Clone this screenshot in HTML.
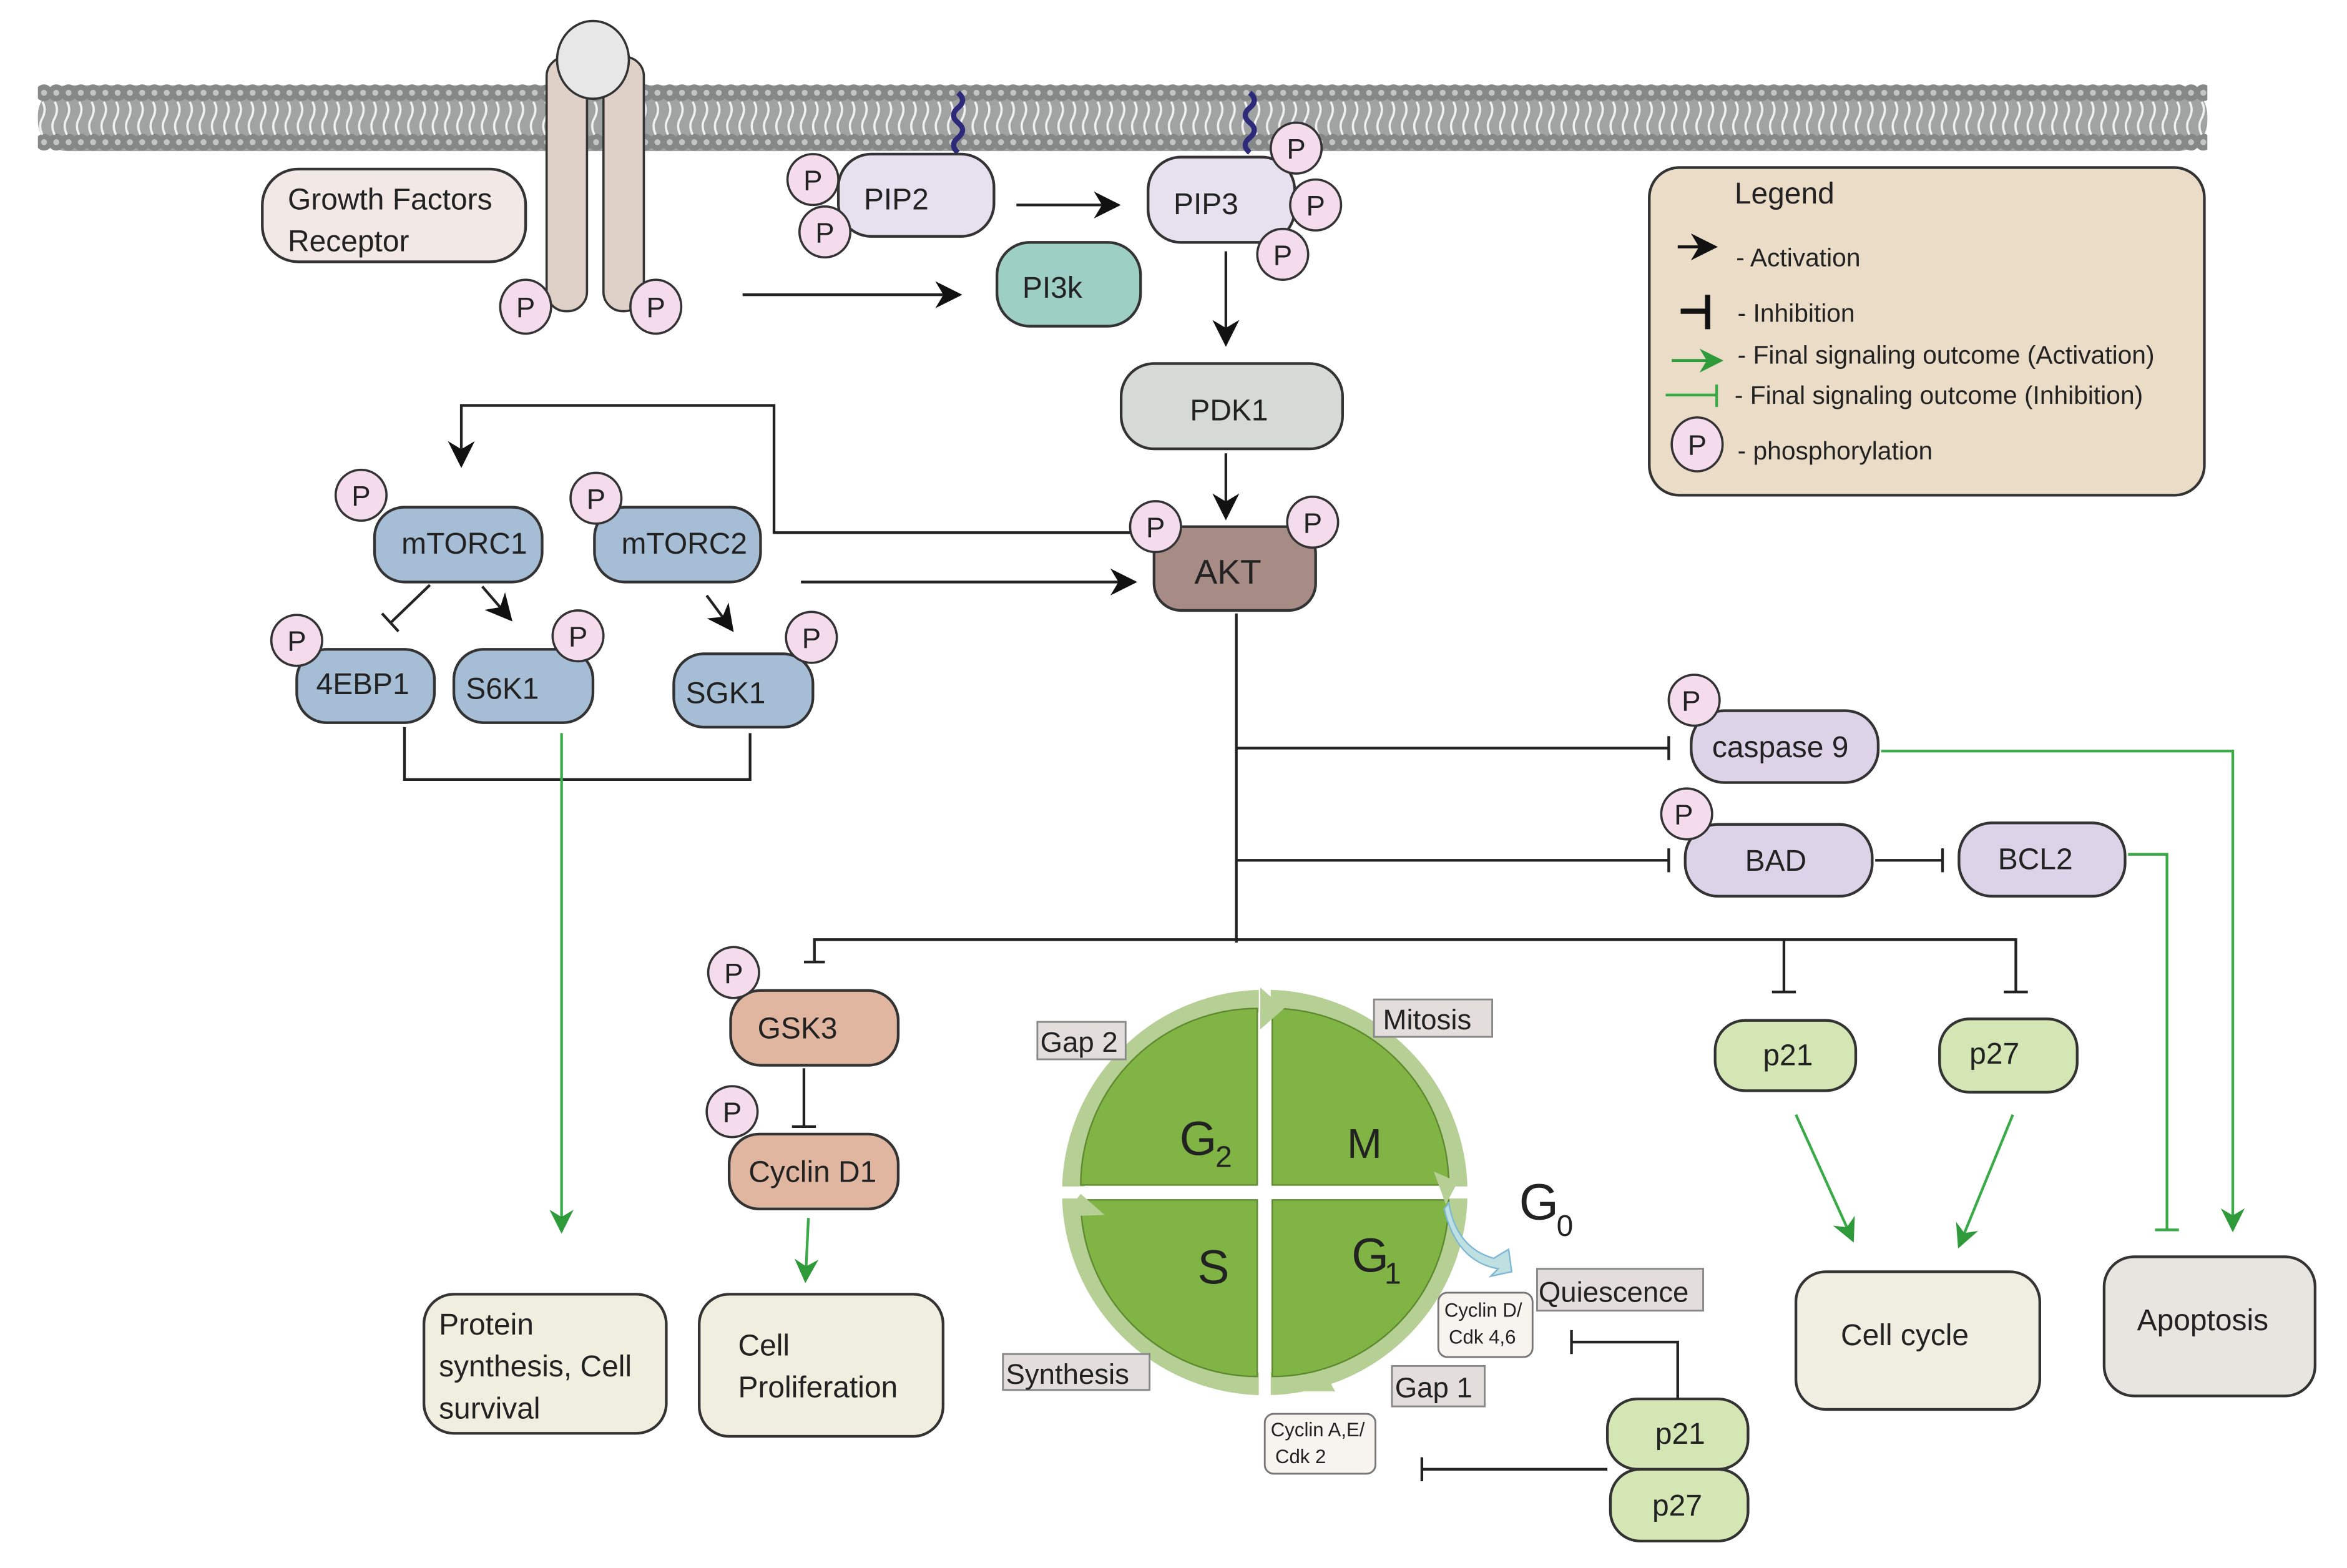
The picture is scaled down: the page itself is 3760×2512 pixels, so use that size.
<!DOCTYPE html>
<html><head><meta charset="utf-8"><style>
html,body{margin:0;padding:0;background:#fff;}
svg{display:block;}
text{font-family:"Liberation Sans",sans-serif;fill:#222;}
</style></head><body>
<svg width="3760" height="2512" viewBox="0 0 1568 1048" xmlns="http://www.w3.org/2000/svg">
<defs>
<pattern id="mem" x="25" y="55" width="8.2" height="48" patternUnits="userSpaceOnUse">
<circle cx="4.1" cy="7" r="5.6" fill="#858887"/>
<circle cx="4.1" cy="7" r="2" fill="#c2c5c4"/>
<circle cx="4.1" cy="40" r="5.6" fill="#858887"/>
<circle cx="4.1" cy="40" r="2" fill="#c2c5c4"/>
<path d="M3 13 q3 5 0 11 q-3 5 0 11" stroke="#f0f0f0" stroke-width="1.5" fill="none"/>
</pattern>
<marker id="ag" viewBox="0 0 10 10" refX="9" refY="5" markerWidth="16" markerHeight="16" orient="auto" markerUnits="userSpaceOnUse"><path d="M0 0 L10 5 L0 10 L3 5z" fill="#2e9a3a"/></marker>
<marker id="abk" viewBox="0 0 10 10" refX="9" refY="5" markerWidth="18" markerHeight="18" orient="auto" markerUnits="userSpaceOnUse"><path d="M0 0 L10 5 L0 10 L3 5z" fill="#111"/></marker>
</defs>

<rect x="25" y="57" width="1450" height="44" rx="20" fill="#a0a3a2"/>
<rect x="25" y="55" width="1450" height="48" fill="url(#mem)"/>

<rect x="365" y="38" width="27" height="170" rx="13" fill="#dfd0c8" stroke="#333" stroke-width="1.5"/>
<rect x="403" y="38" width="27" height="170" rx="13" fill="#dfd0c8" stroke="#333" stroke-width="1.5"/>
<ellipse cx="396" cy="40" rx="24" ry="26" fill="#e7e7e7" stroke="#333" stroke-width="1.5"/>

<path d="M640 62 q6 5 0 10 q-6 5 0 10 q6 5 0 10 q-6 5 0 10" stroke="#2e2a7a" stroke-width="3.5" fill="none"/>
<path d="M835 62 q6 5 0 10 q-6 5 0 10 q6 5 0 10 q-6 5 0 10" stroke="#2e2a7a" stroke-width="3.5" fill="none"/>

<g stroke="#333" stroke-width="1.8">
<rect x="175" y="113" width="176" height="62" rx="24" fill="#f2e8e6"/>
<rect x="560" y="103" width="104" height="55" rx="22" fill="#e6e0ef"/>
<rect x="767" y="105" width="98" height="57" rx="22" fill="#e6e0ef"/>
<rect x="666" y="162" width="96" height="56" rx="22" fill="#9dcfc4"/>
<rect x="749" y="243" width="148" height="57" rx="22" fill="#d5dad6"/>
<rect x="771" y="352" width="108" height="56" rx="18" fill="#a78b85"/>
<rect x="250" y="339" width="112" height="50" rx="20" fill="#a6bdd6"/>
<rect x="397" y="339" width="111" height="50" rx="20" fill="#a6bdd6"/>
<rect x="198" y="434" width="92" height="49" rx="20" fill="#a6bdd6"/>
<rect x="303" y="434" width="93" height="49" rx="20" fill="#a6bdd6"/>
<rect x="450" y="437" width="93" height="49" rx="20" fill="#a6bdd6"/>
<rect x="1130" y="475" width="125" height="48" rx="22" fill="#ddd3e8"/>
<rect x="1126" y="551" width="125" height="48" rx="22" fill="#ddd3e8"/>
<rect x="1309" y="550" width="111" height="49" rx="22" fill="#ddd3e8"/>
<rect x="488" y="662" width="112" height="50" rx="20" fill="#e0b6a0"/>
<rect x="487" y="758" width="113" height="50" rx="20" fill="#e0b6a0"/>
<rect x="1146" y="682" width="94" height="47" rx="20" fill="#d3e6b4"/>
<rect x="1296" y="681" width="92" height="49" rx="20" fill="#d3e6b4"/>
<rect x="1076" y="982" width="92" height="48" rx="20" fill="#d3e6b4"/>
<rect x="1074" y="935" width="94" height="47" rx="20" fill="#d3e6b4"/>
<rect x="283" y="865" width="162" height="93" rx="20" fill="#efeedf"/>
<rect x="467" y="865" width="163" height="95" rx="20" fill="#efeedf"/>
<rect x="1200" y="850" width="163" height="92" rx="20" fill="#f0eee0"/>
<rect x="1406" y="840" width="141" height="93" rx="20" fill="#e7e5e0"/>
<rect x="1102" y="112" width="371" height="219" rx="20" fill="#eadcc7"/>
</g>

<g stroke="#333" stroke-width="1.5" fill="#f4dcec">
<ellipse cx="351" cy="205" rx="17" ry="18"/><ellipse cx="438" cy="205" rx="17" ry="18"/>
<circle cx="543" cy="120" r="17"/><circle cx="551" cy="155" r="17"/>
<circle cx="866" cy="99" r="17"/><circle cx="879" cy="137" r="17"/><circle cx="857" cy="170" r="17"/>
<circle cx="772" cy="352" r="17"/><circle cx="877" cy="349" r="17"/>
<circle cx="241" cy="331" r="17"/><circle cx="398" cy="333" r="17"/>
<circle cx="198" cy="428" r="17"/><circle cx="386" cy="425" r="17"/><circle cx="542" cy="426" r="17"/>
<circle cx="1132" cy="468" r="17"/><circle cx="1127" cy="544" r="17"/>
<circle cx="490" cy="650" r="17"/><circle cx="489" cy="743" r="17"/>
<ellipse cx="1134" cy="297" rx="17" ry="18"/>
</g>
<g font-size="19" text-anchor="middle">
<text x="351" y="212">P</text><text x="438" y="212">P</text>
<text x="543" y="127">P</text><text x="551" y="162">P</text>
<text x="866" y="106">P</text><text x="879" y="144">P</text><text x="857" y="177">P</text>
<text x="772" y="359">P</text><text x="877" y="356">P</text>
<text x="241" y="338">P</text><text x="398" y="340">P</text>
<text x="198" y="435">P</text><text x="386" y="432">P</text><text x="542" y="433">P</text>
<text x="1130" y="475">P</text><text x="1125" y="551">P</text>
<text x="490" y="657">P</text><text x="489" y="750">P</text>
<text x="1134" y="304">P</text>
</g>

<g font-size="20">
<text x="192" y="140">Growth Factors</text><text x="192" y="168">Receptor</text>
<text x="577" y="140">PIP2</text>
<text x="784" y="143">PIP3</text>
<text x="683" y="199">PI3k</text>
<text x="795" y="281">PDK1</text>
<text x="798" y="390" font-size="23">AKT</text>
<text x="268" y="370">mTORC1</text>
<text x="415" y="370">mTORC2</text>
<text x="211" y="464">4EBP1</text>
<text x="311" y="467">S6K1</text>
<text x="458" y="470">SGK1</text>
<text x="1144" y="506">caspase 9</text>
<text x="1166" y="582">BAD</text>
<text x="1335" y="581">BCL2</text>
<text x="506" y="694">GSK3</text>
<text x="500" y="790">Cyclin D1</text>
<text x="1178" y="712">p21</text>
<text x="1316" y="711">p27</text>
<text x="1106" y="965">p21</text>
<text x="1104" y="1013">p27</text>
<text x="293" y="892">Protein</text><text x="293" y="920">synthesis, Cell</text><text x="293" y="948">survival</text>
<text x="493" y="906">Cell</text><text x="493" y="934">Proliferation</text>
<text x="1230" y="899">Cell cycle</text>
<text x="1428" y="889">Apoptosis</text>
</g>

<g font-size="17">
<text x="1159" y="136" font-size="20">Legend</text>
<text x="1160" y="178">- Activation</text>
<text x="1161" y="215">- Inhibition</text>
<text x="1161" y="243">-  Final signaling outcome (Activation)</text>
<text x="1159" y="270">-  Final signaling outcome (Inhibition)</text>
<text x="1161" y="307">- phosphorylation</text>
</g>
<path d="M1121 165 L1146 165" stroke="#111" stroke-width="2" marker-end="url(#abk)"/>
<path d="M1123 208 L1141 208 M1141 197 L1141 220" stroke="#111" stroke-width="3.5"/>
<path d="M1117 241 L1150 241" stroke="#2e9a3a" stroke-width="2" marker-end="url(#ag)"/>
<path d="M1113 264 L1147 264 M1147 257 L1147 272" stroke="#3aaa48" stroke-width="1.8"/>

<g stroke="#222" stroke-width="1.8" fill="none">
<path d="M496 197 L641 197" marker-end="url(#abk)"/>
<path d="M679 137 L747 137" marker-end="url(#abk)"/>
<path d="M819 168 L819 230" marker-end="url(#abk)"/>
<path d="M819 303 L819 346" marker-end="url(#abk)"/>
<path d="M535 389 L758 389" marker-end="url(#abk)"/>
<path d="M755 356 L517 356 L517 271 L308 271 L308 311" marker-end="url(#abk)"/>
<path d="M287 391 L261 416 M255 410 L266 422"/>
<path d="M322 392 L341 414" marker-end="url(#abk)"/>
<path d="M472 398 L489 421" marker-end="url(#abk)"/>
<path d="M270 486 L270 521 L501 521 L501 490"/>
<path d="M826 410 L826 630"/>
<path d="M826 500 L1115 500 M1115 492 L1115 508"/>
<path d="M826 575 L1115 575 M1115 567 L1115 583"/>
<path d="M544 643 L544 628 L1347 628 L1347 663 M1339 663 L1355 663"/>
<path d="M537 643 L551 643"/>
<path d="M1192 628 L1192 663 M1184 663 L1200 663"/>
<path d="M1253 575 L1298 575 M1298 567 L1298 583"/>
<path d="M537 714 L537 753 M529 753 L545 753"/>
<path d="M1121 935 L1121 897 L1050 897 M1050 889 L1050 905"/>
<path d="M1074 982 L950 982 M950 974 L950 990"/>
</g>

<g stroke="#3aaa48" stroke-width="1.8" fill="none">
<path d="M375 490 L375 823" marker-end="url(#ag)"/>
<path d="M540 814 L538 856" marker-end="url(#ag)"/>
<path d="M1257 502 L1492 502 L1492 822" marker-end="url(#ag)"/>
<path d="M1422 571 L1448 571 L1448 822 M1440 822 L1456 822"/>
<path d="M1200 745 L1238 829" marker-end="url(#ag)"/>
<path d="M1345 745 L1309 833" marker-end="url(#ag)"/>
</g>

<g>
<circle cx="845" cy="797" r="128" fill="none" stroke="#b6cf95" stroke-width="15"/>
<path d="M840 792 L722 792 A118 118 0 0 1 840 674 Z" fill="#80b444" stroke="#5d8a2e" stroke-width="1"/>
<path d="M850 792 L968 792 A118 118 0 0 0 850 674 Z" fill="#80b444" stroke="#5d8a2e" stroke-width="1"/>
<path d="M840 802 L722 802 A118 118 0 0 0 840 920 Z" fill="#80b444" stroke="#5d8a2e" stroke-width="1"/>
<path d="M850 802 L968 802 A118 118 0 0 1 850 920 Z" fill="#80b444" stroke="#5d8a2e" stroke-width="1"/>
<rect x="841" y="660" width="8" height="275" fill="#fff"/>
<rect x="705" y="793" width="280" height="8" fill="#fff"/>
<path d="M842 660 L858 674 L842 688 Z" fill="#b6cf95"/>
<path d="M958 783 L974 790 L966 805 Z" fill="#b6cf95"/>
<path d="M710 813 L722 798 L738 812 Z" fill="#b6cf95"/>
<path d="M870 930 L884 915 L892 930 Z" fill="#b6cf95"/>
<path d="M968 804 q5 30 30 37 l10 -6 l2 15 l-14 3 l5 -5 q-28 -5 -36 -40z" fill="#bfe0e0" stroke="#7fb8d6" stroke-width="1"/>
<text x="788" y="772" font-size="32">G</text><text x="812" y="780" font-size="20">2</text>
<text x="900" y="774" font-size="28">M</text>
<text x="800" y="858" font-size="32">S</text>
<text x="903" y="850" font-size="32">G</text><text x="925" y="858" font-size="20">1</text>
<text x="1015" y="815" font-size="34">G</text><text x="1040" y="826" font-size="20">0</text>
</g>
<g stroke="#888" stroke-width="1.2" fill="#e3dedb">
<rect x="918" y="668" width="79" height="25"/>
<rect x="693" y="683" width="59" height="25"/>
<rect x="670" y="905" width="98" height="24"/>
<rect x="930" y="913" width="62" height="27"/>
<rect x="1027" y="848" width="111" height="28"/>
</g>
<g stroke="#777" stroke-width="1.2" fill="#f7f3ee">
<rect x="961" y="864" width="63" height="43" rx="6"/>
<rect x="845" y="945" width="74" height="40" rx="6"/>
</g>
<g font-size="19">
<text x="924" y="688">Mitosis</text>
<text x="695" y="703">Gap 2</text>
<text x="672" y="925">Synthesis</text>
<text x="932" y="934">Gap 1</text>
<text x="1028" y="870">Quiescence</text>
</g>
<g font-size="13">
<text x="965" y="880">Cyclin D/</text><text x="968" y="898">Cdk 4,6</text>
<text x="849" y="960">Cyclin A,E/</text><text x="852" y="978">Cdk 2</text>
</g>
</svg>
</body></html>
